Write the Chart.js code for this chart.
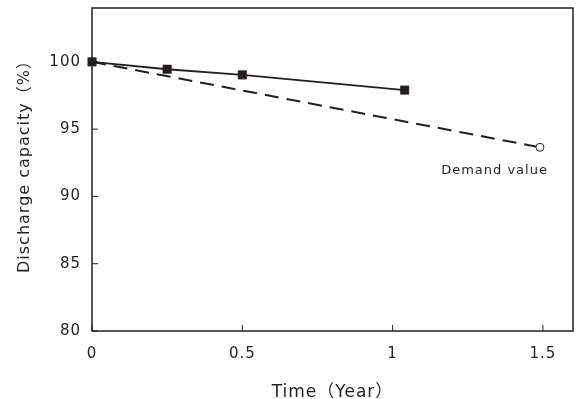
<!DOCTYPE html>
<html>
<head>
<meta charset="utf-8">
<script src="https://cdn.jsdelivr.net/npm/chart.js@4/dist/chart.umd.min.js"></script>
<style>
html,body{margin:0;padding:0;background:#fff;}
#wrap{width:576px;height:399px;}
</style>
</head>
<body>
<div id="wrap"><canvas id="c" width="576" height="399"></canvas></div>
<script>
const measuredTime = [0, 0.25, 0.5, 1.04];
const measuredCapacity = [100, 99.45, 99.03, 97.9];
const demandTime = [0, 1.49];
const demandCapacity = [100, 93.65];
const xTicks = [0, 0.5, 1, 1.5];
const yTicks = [80, 85, 90, 95, 100];
const demandLabel = 'Demand value';
const xTitle = 'Time（Year）';
const yTitle = 'Discharge capacity（%）';

const FONT = "'DejaVu Sans', 'Noto Sans CJK JP', sans-serif";
const ink = '#231f20';

const spacing = {
  id: 'spacing',
  beforeDraw(chart) { chart.ctx.letterSpacing = '1px'; }
};

const frame = {
  id: 'frame',
  afterDatasetsDraw(chart) {
    const {ctx, chartArea: a, scales} = chart;
    ctx.save();
    ctx.strokeStyle = ink;
    ctx.lineWidth = 1.5;
    ctx.strokeRect(a.left, a.top, a.right - a.left, a.bottom - a.top);
    ctx.lineWidth = 1;
    ctx.beginPath();
    yTicks.forEach(v => {
      const y = scales.y.getPixelForValue(v);
      ctx.moveTo(a.left, y); ctx.lineTo(a.left + 6, y);
    });
    xTicks.forEach(v => {
      const x = scales.x.getPixelForValue(v);
      ctx.moveTo(x, a.bottom); ctx.lineTo(x, a.bottom - 6);
    });
    ctx.stroke();
    ctx.fillStyle = ink;
    ctx.letterSpacing = '1px';
    // demand label
    const i = demandTime.length - 1;
    const px = scales.x.getPixelForValue(demandTime[i]);
    const py = scales.y.getPixelForValue(demandCapacity[i]);
    ctx.font = '13px ' + FONT;
    ctx.textAlign = 'right';
    ctx.textBaseline = 'middle';
    ctx.fillText(demandLabel, px + 8, py + 23);
    // y title
    ctx.font = '16px ' + FONT;
    ctx.textAlign = 'center';
    ctx.translate(25, (a.top + a.bottom) / 2 - 7);
    ctx.rotate(-Math.PI / 2);
    ctx.fillText(yTitle, 0, 0);
    ctx.restore();
  }
};

function noPad(s) {
  s.paddingLeft = 0; s.paddingRight = 0; s.paddingTop = 0; s.paddingBottom = 0;
}

new Chart(document.getElementById('c'), {
  type: 'scatter',
  data: {
    datasets: [
      {
        data: demandTime.map((t, i) => ({x: t, y: demandCapacity[i]})),
        showLine: true,
        borderColor: ink,
        borderWidth: 2,
        borderDash: [14, 8],
        pointRadius: [0, 4],
        pointStyle: 'circle',
        pointBackgroundColor: '#fff',
        pointBorderColor: ink,
        pointBorderWidth: 1,
        clip: false,
        order: 2
      },
      {
        data: measuredTime.map((t, i) => ({x: t, y: measuredCapacity[i]})),
        showLine: true,
        borderColor: ink,
        borderWidth: 1.8,
        pointStyle: 'rect',
        pointRadius: 6,
        pointBackgroundColor: ink,
        pointBorderColor: ink,
        pointBorderWidth: 0.5,
        clip: false,
        order: 1
      }
    ]
  },
  plugins: [spacing, frame],
  options: {
    responsive: false,
    animation: false,
    events: [],
    layout: {autoPadding: false, padding: {top: 8, right: 3, left: 0, bottom: 0}},
    plugins: {legend: {display: false}, tooltip: {enabled: false}},
    scales: {
      x: {
        type: 'linear',
        min: 0, max: 1.6,
        afterBuildTicks: s => { s.ticks = xTicks.map(v => ({value: v})); },
        afterFit: s => { s.height = 68; noPad(s); },
        grid: {display: false, drawTicks: false},
        border: {display: false},
        ticks: {
          color: ink, padding: 14,
          font: {family: FONT, size: 15},
          callback: v => String(v)
        },
        title: {
          display: true, text: xTitle, color: ink,
          font: {family: FONT, size: 17, lineHeight: 0.8},
          padding: {top: 8, bottom: 0}
        }
      },
      y: {
        type: 'linear',
        min: 80, max: 104,
        afterBuildTicks: s => { s.ticks = yTicks.map(v => ({value: v})); },
        afterFit: s => { s.width = 92; noPad(s); },
        grid: {display: false, drawTicks: false},
        border: {display: false},
        ticks: {
          color: ink, padding: 11,
          font: {family: FONT, size: 15},
          callback: v => String(v)
        },
        title: {display: false}
      }
    }
  }
});
</script>
</body>
</html>
